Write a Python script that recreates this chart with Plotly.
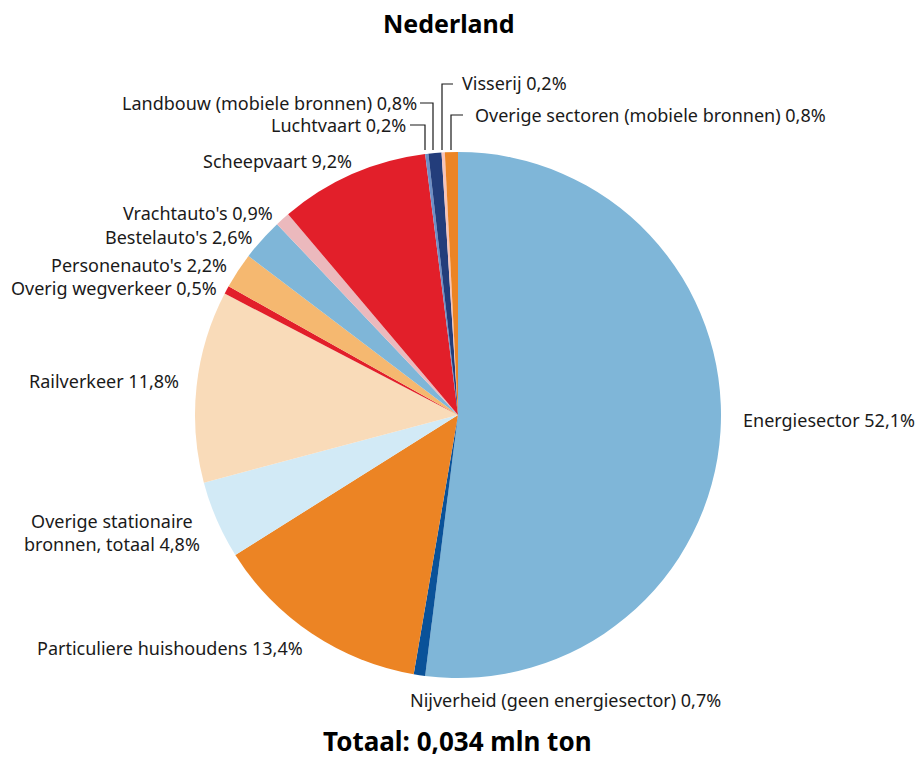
import plotly.graph_objs as go

# Data
labels = ['Energiesector', 'Nijverheid (geen energiesector)', 'Particuliere huishoudens',
          'Overige stationaire bronnen, totaal', 'Railverkeer', 'Overig wegverkeer',
          "Personenauto's", "Bestelauto's", "Vrachtauto's", 'Scheepvaart', 'Luchtvaart',
          'Landbouw (mobiele bronnen)', 'Visserij', 'Overige sectoren (mobiele bronnen)']
values = [52.1, 0.7, 13.4, 4.8, 11.8, 0.5, 2.2, 2.6, 0.9, 9.2, 0.2, 0.8, 0.2, 0.8]
colors = ['#7fb6d8', '#0a5299', '#ec8424', '#d2eaf6', '#f9dbb9', '#e21f2a', '#f5b870',
          '#7fb6d8', '#ebb9bd', '#e21f2a', '#6d8fc6', '#233d7b', '#f7c3b8', '#ec8424']
label_text = ['Energiesector 52,1%', 'Nijverheid (geen energiesector) 0,7%',
              'Particuliere huishoudens 13,4%', 'Overige stationaire<br>bronnen, totaal 4,8%',
              'Railverkeer 11,8%', 'Overig wegverkeer 0,5%', "Personenauto's 2,2%",
              "Bestelauto's 2,6%", "Vrachtauto's 0,9%", 'Scheepvaart 9,2%',
              'Luchtvaart 0,2%', 'Landbouw (mobiele bronnen) 0,8%', 'Visserij 0,2%',
              'Overige sectoren (mobiele bronnen) 0,8%']

W, H = 916, 760
FONT = 'Noto Sans'


def px(x, y):
    return x / W, 1 - y / H


# label placement in pixels: (x, y, xanchor)
label_pos = [(741, 420, 'left'), (408, 700, 'left'), (305, 648, 'right'),
             (112, 532, 'center'), (181, 381, 'right'), (219, 288, 'right'),
             (229, 265, 'right'), (254, 237, 'right'), (275, 213, 'right'),
             (354, 161, 'right'), (408, 125, 'right'), (419, 103, 'right'),
             (460, 83, 'left'), (473, 115, 'left')]

x0, y0 = px(195, 678)
x1, y1 = px(721, 152)
trace = go.Pie(
    labels=labels,
    values=values,
    marker=dict(colors=colors),
    sort=False,
    direction='clockwise',
    rotation=0,
    textinfo='none',
    hoverinfo='label+percent',
    domain=dict(x=[x0, x1], y=[y0, y1]),
    showlegend=False,
)

annotations = []
for txt, (x, y, anchor) in zip(label_text, label_pos):
    ax, ay = px(x, y)
    annotations.append(dict(x=ax, y=ay, xref='paper', yref='paper', text=txt,
                            showarrow=False, xanchor=anchor, yanchor='middle',
                            align='center', font=dict(size=18, color='#1a1a1a')))

tx, ty = px(449, 23)
annotations.append(dict(x=tx, y=ty, xref='paper', yref='paper',
                        text='<b>Nederland</b>', showarrow=False,
                        xanchor='center', yanchor='middle',
                        font=dict(size=25, color='black')))
bx, by = px(457, 741)
annotations.append(dict(x=bx, y=by, xref='paper', yref='paper',
                        text='<b>Totaal: 0,034 mln ton</b>', showarrow=False,
                        xanchor='center', yanchor='middle', borderpad=0,
                        font=dict(size=26, color='black')))

# elbow leader lines for the small top slices
leaders = [
    [(420, 103), (433, 103), (433, 150)],
    [(410, 125), (425, 125), (425, 150)],
    [(453, 84), (442, 84), (442, 150)],
    [(463, 115), (451, 115), (451, 150)],
]
shapes = []
for pts in leaders:
    p = [px(x, y) for x, y in pts]
    path = 'M {} {} L {} {} L {} {}'.format(p[0][0], p[0][1], p[1][0], p[1][1], p[2][0], p[2][1])
    shapes.append(dict(type='path', path=path, xref='paper', yref='paper',
                       line=dict(color='#1a1a1a', width=1.2)))

layout = go.Layout(
    width=W, height=H,
    margin=dict(l=0, r=0, t=0, b=0),
    paper_bgcolor='white',
    font=dict(family=FONT),
    annotations=annotations,
    shapes=shapes,
)

fig = go.Figure(data=[trace], layout=layout)
# drop the default page margin so the figure sits at the window corner
fig.write_html('out.html', config={'displayModeBar': False},
               post_script="document.body.style.margin='0';document.body.style.overflow='hidden';")
